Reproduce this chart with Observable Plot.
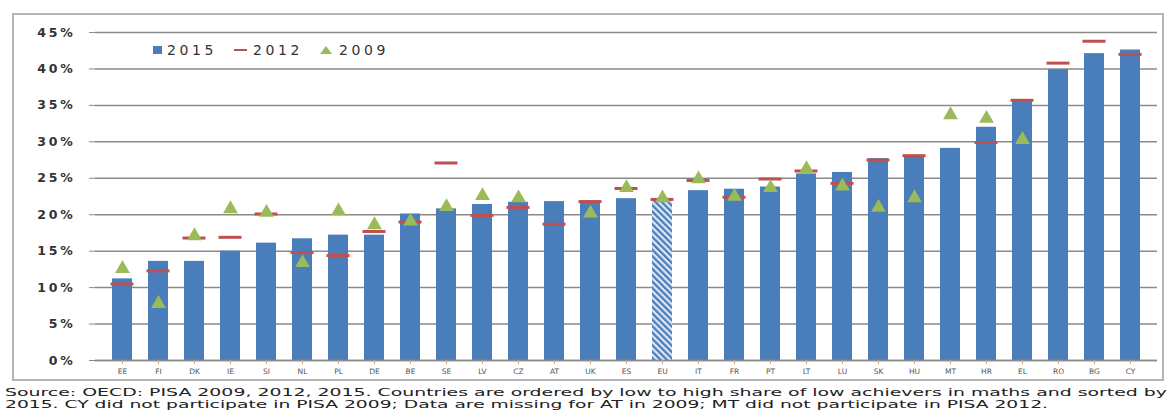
<!DOCTYPE html>
<html>
<head>
<meta charset="utf-8">
<script src="https://cdn.jsdelivr.net/npm/d3@7"></script>
<script src="https://cdn.jsdelivr.net/npm/@observablehq/plot@0.6"></script>
<style>
  html, body { margin: 0; padding: 0; background: #fff; }
  #wrap { position: relative; width: 1174px; height: 412px; font-family: "DejaVu Sans", Verdana, sans-serif; }
  #frame { position: absolute; left: 12px; top: 13px; width: 1152px; height: 368px; border: 2px solid #b5b5b5; box-sizing: border-box; }
  #chart { position: absolute; left: 0; top: 0; }
  #legend { position: absolute; left: 152px; top: 41px; font-size: 14px; letter-spacing: 3.6px; color: #333; white-space: nowrap; }
  #caption { position: absolute; left: 0; top: 383px; }
</style>
</head>
<body>
<div id="wrap">
  <div id="frame"></div>
  <div id="chart"></div>
  <div id="legend"></div>
  <div id="caption"></div>
</div>
<script>
const countries = ["EE","FI","DK","IE","SI","NL","PL","DE","BE","SE","LV","CZ","AT","UK","ES","EU","IT","FR","PT","LT","LU","SK","HU","MT","HR","EL","RO","BG","CY"];
const v2015 = [11.2,13.6,13.6,15.0,16.1,16.7,17.2,17.2,20.1,20.8,21.4,21.7,21.8,21.9,22.2,22.2,23.3,23.5,23.8,25.6,25.8,27.7,28.0,29.1,32.0,35.8,39.9,42.1,42.6];
const v2012 = [10.5,12.3,16.8,16.9,20.1,14.8,14.4,17.7,19.0,27.1,19.9,21.0,18.7,21.8,23.6,22.1,24.7,22.4,24.9,26.0,24.3,27.5,28.1,null,29.9,35.7,40.8,43.8,42.0];
const v2009 = [12.6,7.8,17.1,20.8,20.3,13.4,20.5,18.6,19.1,21.1,22.6,22.3,null,20.2,23.7,22.3,24.9,22.5,23.7,26.3,23.9,21.0,22.3,33.7,33.2,30.3,null,null,null];
const yTicks = [0,5,10,15,20,25,30,35,40,45];
const seriesNames = ["2015","2012","2009"];
const captionLines = [
  "Source: OECD: PISA 2009, 2012, 2015. Countries are ordered by low to high share of low achievers in maths and sorted by",
  "2015. CY did not participate in PISA 2009; Data are missing for AT in 2009; MT did not participate in PISA 2012."
];

const rows = countries.map((c, i) => ({c, v15: v2015[i], v12: v2012[i], v09: v2009[i], eu: c === "EU"}));

const BLUE = "#4a7ebb", RED = "#c0504d", GREEN = "#9bbb59";

const chart = Plot.plot({
  width: 1174,
  height: 384,
  marginLeft: 95,
  marginRight: 17,
  marginTop: 32,
  marginBottom: 24,
  style: {fontFamily: "DejaVu Sans, Verdana, sans-serif", background: "transparent", overflow: "visible"},
  x: {domain: countries, paddingInner: 0.45, paddingOuter: 0.225, label: null},
  y: {domain: [0, 45], label: null},
  marks: [
    Plot.gridY(yTicks, {stroke: "#8a8a8a", strokeOpacity: 1, strokeWidth: 1.5}),
    Plot.barY(rows.filter(d => !d.eu), {x: "c", y: "v15", fill: BLUE}),
    Plot.barY(rows.filter(d => d.eu), {x: "c", y: "v15", fill: "url(#hatch)"}),
    Plot.ruleY([0], {stroke: "#8a8a8a", strokeWidth: 1.5}),
    Plot.ruleX([0], {frameAnchor: "left", y1: 0, y2: 45, stroke: "#8a8a8a", strokeWidth: 1.5}),
    Plot.tickY(rows.filter(d => d.v12 != null), {x: "c", y: "v12", stroke: RED, strokeWidth: 3, insetLeft: -1.5, insetRight: -1.5}),
    Plot.dot(rows.filter(d => d.v09 != null), {x: "c", y: "v09", symbol: "triangle", r: 5.5, fill: GREEN, stroke: "none"}),
    Plot.axisY(yTicks, {tickFormat: d => d + "%", tickSize: 6, tickPadding: 14, stroke: "#8a8a8a", fontSize: 12.5, fill: "#333", fontWeight: "bold"}),
    Plot.axisX({tickSize: 4, tickPadding: 4, fontSize: 7.5, fill: "#555", stroke: "#e0a080"})
  ]
});

// hatch pattern for the EU average bar
const defs = d3.select(chart).insert("defs", ":first-child");
const pat = defs.append("pattern").attr("id", "hatch").attr("patternUnits", "userSpaceOnUse")
  .attr("width", 4.5).attr("height", 4.5).attr("patternTransform", "rotate(-45)");
pat.append("rect").attr("width", 4.5).attr("height", 4.5).attr("fill", "#dfe8f4");
pat.append("rect").attr("width", 2.3).attr("height", 4.5).attr("fill", BLUE);

d3.select(chart).selectAll("g[aria-label='y-axis tick label'] text").style("letter-spacing", "2.8px");
document.getElementById("chart").appendChild(chart);

// legend
const lg = document.getElementById("legend");
const sw = [
  `<svg width="11" height="10" style="vertical-align:middle;margin-right:4px"><rect x="1" y="1" width="9" height="8" fill="${BLUE}"/></svg>`,
  `<svg width="16" height="10" style="vertical-align:middle;margin-left:16px;margin-right:4px"><line x1="1" x2="14" y1="5" y2="5" stroke="${RED}" stroke-width="2"/></svg>`,
  `<svg width="14" height="10" style="vertical-align:middle;margin-left:16px;margin-right:6px"><path d="M1,9 L7,1 L13,9 Z" fill="${GREEN}"/></svg>`
];
lg.innerHTML = seriesNames.map((n, i) => sw[i] + `<span style="vertical-align:middle">${n}</span>`).join("");

// caption
const cap = d3.select("#caption").append("svg").attr("width", 1174).attr("height", 29);
const capLen = [1162, 1043];
captionLines.forEach((t, i) => {
  cap.append("text")
    .attr("x", 5).attr("y", 13 + i * 12)
    .attr("font-family", "DejaVu Sans, Verdana, sans-serif")
    .attr("font-size", 11)
    .attr("fill", "#222")
    .attr("textLength", capLen[i])
    .attr("lengthAdjust", "spacingAndGlyphs")
    .text(t);
});
</script>
</body>
</html>
